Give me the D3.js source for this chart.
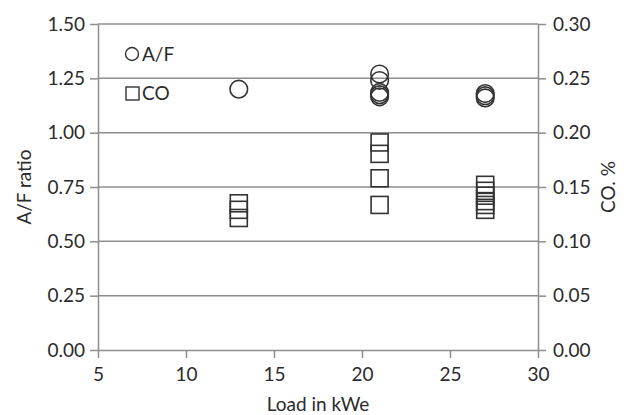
<!DOCTYPE html>
<html>
<head>
<meta charset="utf-8">
<script src="https://cdn.jsdelivr.net/npm/d3@7"></script>
<style>
  body { margin: 0; background: #fff; }
  svg text { font-family: Lato, "Open Sans", sans-serif; fill: #2b2b2b; }
</style>
</head>
<body>
<div id="chart"></div>
<script>
// A/F ratio (left axis)
const afLoad = [13, 21, 21, 21, 21, 21, 27, 27, 27];
const afRatio = [1.20, 1.27, 1.24, 1.185, 1.175, 1.165, 1.18, 1.17, 1.16];

// CO % (right axis)
const coLoad = [13, 13, 13, 21, 21, 21, 21, 27, 27, 27, 27, 27, 27];
const coPct = [0.135, 0.129, 0.1215, 0.191, 0.1805, 0.158, 0.1335, 0.152, 0.1465, 0.142, 0.137, 0.1335, 0.129];

const xTicks = [5, 10, 15, 20, 25, 30];
const leftTicks = [0, 0.25, 0.5, 0.75, 1.0, 1.25, 1.5];
const rightTicks = [0, 0.05, 0.1, 0.15, 0.2, 0.25, 0.3];

const width = 633, height = 415;
const margin = { top: 24, right: 95, bottom: 65, left: 98 };
const fontSize = '19px';

const svg = d3.select('#chart').append('svg')
  .attr('width', width)
  .attr('height', height);

const xScale = d3.scaleLinear().domain([5, 30]).range([margin.left, width - margin.right]);
const yLeft = d3.scaleLinear().domain([0, 1.5]).range([height - margin.bottom, margin.top]);
const yRight = d3.scaleLinear().domain([0, 0.3]).range([height - margin.bottom, margin.top]);

const gridColor = '#8e8e8e';

// Horizontal gridlines
svg.append('g')
  .selectAll('line')
  .data(leftTicks.slice(1))
  .join('line')
  .attr('x1', xScale(5))
  .attr('x2', xScale(30))
  .attr('y1', (d) => yLeft(d))
  .attr('y2', (d) => yLeft(d))
  .attr('stroke', gridColor)
  .attr('stroke-width', 1.5);

// Axes
const styleAxis = (g) => {
  g.selectAll('.domain').attr('stroke', gridColor).attr('stroke-width', 1.5);
  g.selectAll('.tick line').attr('stroke', gridColor).attr('stroke-width', 1.5);
  g.selectAll('.tick text').style('font-size', fontSize).attr('fill', '#2b2b2b')
    .style('font-family', 'Lato, "Open Sans", sans-serif');
};

svg.append('g')
  .attr('transform', `translate(0,${yLeft(0)})`)
  .call(d3.axisBottom(xScale).tickValues(xTicks).tickSize(8).tickSizeOuter(0).tickPadding(10))
  .call(styleAxis);

svg.append('g')
  .attr('transform', `translate(${xScale(5)},0)`)
  .call(d3.axisLeft(yLeft).tickValues(leftTicks).tickFormat(d3.format('.2f')).tickSize(8).tickSizeOuter(0).tickPadding(5))
  .call(styleAxis);

svg.append('g')
  .attr('transform', `translate(${xScale(30)},0)`)
  .call(d3.axisRight(yRight).tickValues(rightTicks).tickFormat(d3.format('.2f')).tickSize(8).tickSizeOuter(0).tickPadding(7))
  .call(styleAxis);

// Axis titles
svg.append('text')
  .attr('x', (xScale(5) + xScale(30)) / 2)
  .attr('y', 411)
  .attr('text-anchor', 'middle')
  .style('font-size', fontSize)
  .text('Load in kWe');

svg.append('text')
  .attr('transform', `translate(31,${(yLeft(0) + yLeft(1.5)) / 2}) rotate(-90)`)
  .attr('text-anchor', 'middle')
  .style('font-size', fontSize)
  .text('A/F ratio');

svg.append('text')
  .attr('transform', `translate(615,${(yLeft(0) + yLeft(1.5)) / 2}) rotate(-90)`)
  .attr('text-anchor', 'middle')
  .style('font-size', fontSize)
  .text('CO. %');

// A/F markers
svg.append('g')
  .selectAll('circle')
  .data(afLoad.map((x, i) => ({ x, y: afRatio[i] })))
  .join('circle')
  .attr('cx', (d) => xScale(d.x))
  .attr('cy', (d) => yLeft(d.y))
  .attr('r', 8.8)
  .attr('fill', 'none')
  .attr('stroke', '#333')
  .attr('stroke-width', 1.6);

// CO markers
const sq = 17;
svg.append('g')
  .selectAll('rect')
  .data(coLoad.map((x, i) => ({ x, y: coPct[i] })))
  .join('rect')
  .attr('x', (d) => xScale(d.x) - sq / 2)
  .attr('y', (d) => yRight(d.y) - sq / 2)
  .attr('width', sq)
  .attr('height', sq)
  .attr('fill', 'none')
  .attr('stroke', '#333')
  .attr('stroke-width', 1.6);

// Legend
const legend = svg.append('g');
legend.append('circle')
  .attr('cx', 132).attr('cy', 54).attr('r', 6.5)
  .attr('fill', 'none').attr('stroke', '#333').attr('stroke-width', 1.4);
legend.append('text')
  .attr('x', 142).attr('y', 61)
  .style('font-size', fontSize)
  .text('A/F');
legend.append('rect')
  .attr('x', 126).attr('y', 87).attr('width', 13).attr('height', 13)
  .attr('fill', 'none').attr('stroke', '#333').attr('stroke-width', 1.4);
legend.append('text')
  .attr('x', 142).attr('y', 100)
  .style('font-size', fontSize)
  .text('CO');
</script>
</body>
</html>
